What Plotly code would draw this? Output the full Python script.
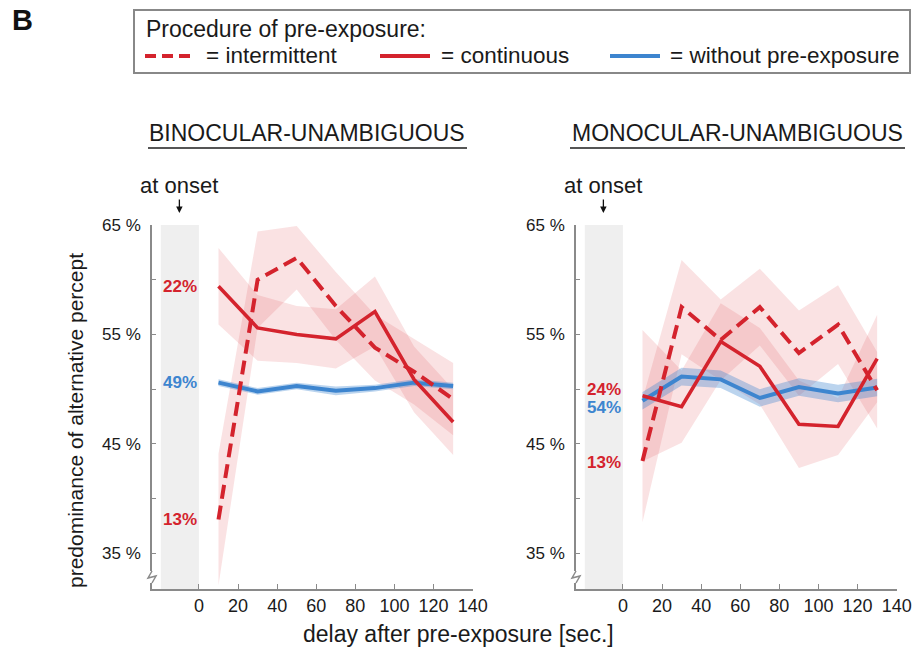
import plotly.graph_objects as go

# ---------------- data ----------------
delay = [10, 30, 50, 70, 90, 110, 130]

bin_cont = [59.4, 55.6, 55.0, 54.6, 57.1, 50.9, 47.0]
bin_cont_se = [3.5, 3.0, 2.6, 2.7, 3.2, 3.0, 3.0]
bin_int = [38.1, 60.0, 62.0, 57.6, 53.8, 51.6, 49.1]
bin_int_se = [6.0, 4.4, 2.9, 3.1, 3.0, 3.0, 3.3]
bin_none = [50.6, 49.8, 50.3, 49.85, 50.1, 50.6, 50.3]
bin_none_se = [0.3, 0.3, 0.3, 0.4, 0.3, 0.3, 0.3]

mon_cont = [49.4, 48.4, 54.35, 52.1, 46.8, 46.6, 52.8]
mon_cont_se = [6.0, 3.3, 3.5, 3.5, 4.0, 2.6, 4.0]
mon_int = [43.45, 57.5, 54.5, 57.5, 53.3, 55.9, 49.9]
mon_int_se = [5.6, 4.3, 3.7, 3.5, 3.9, 3.6, 3.5]
mon_none = [48.95, 51.15, 50.9, 49.2, 50.2, 49.6, 50.15]
mon_none_se = [0.8, 0.8, 0.8, 0.8, 0.8, 0.8, 0.8]

onset_bin = ["22%", "49%", "13%"]   # continuous, without, intermittent
onset_mon = ["24%", "54%", "13%"]

panel_titles = ["BINOCULAR-UNAMBIGUOUS", "MONOCULAR-UNAMBIGUOUS"]
x_ticks = [0, 20, 40, 60, 80, 100, 120, 140]
y_ticks = [35, 40, 45, 50, 55, 60, 65]
y_ticktext = ["35 %", "", "45 %", "", "55 %", "", "65 %"]

# ---------------- style ----------------
RED = "rgb(212,35,45)"
BLUE = "rgb(61,133,207)"
PINK = "rgba(220,60,70,0.15)"
LBLUE = "rgba(61,133,207,0.35)"
AX = "#8a8a8a"
TXT = "#1a1a1a"
FONT = "Liberation Sans, Arial, Helvetica, sans-serif"
W, H = 923, 648


def px(x):
    return x / W


def py(y):
    return 1 - y / H


fig = go.Figure()


def band(x, m, se, color, xa, ya):
    up = [a + b for a, b in zip(m, se)]
    lo = [a - b for a, b in zip(m, se)]
    fig.add_trace(go.Scatter(x=x + x[::-1], y=up + lo[::-1], fill="toself",
                             fillcolor=color, line=dict(width=0), mode="lines",
                             hoverinfo="skip", showlegend=False, xaxis=xa, yaxis=ya))


panels = [
    ("x", "y", bin_cont, bin_cont_se, bin_int, bin_int_se, bin_none, bin_none_se),
    ("x2", "y2", mon_cont, mon_cont_se, mon_int, mon_int_se, mon_none, mon_none_se),
]
for xa, ya, c, cse, it, itse, n, nse in panels:
    band(delay, c, cse, PINK, xa, ya)
    band(delay, it, itse, PINK, xa, ya)
    band(delay, n, nse, LBLUE, xa, ya)
    fig.add_trace(go.Scatter(x=delay, y=n, mode="lines", line=dict(color=BLUE, width=4),
                             showlegend=False, xaxis=xa, yaxis=ya))
    fig.add_trace(go.Scatter(x=delay, y=c, mode="lines", line=dict(color=RED, width=3.6),
                             showlegend=False, xaxis=xa, yaxis=ya))
    fig.add_trace(go.Scatter(x=delay, y=it, mode="lines",
                             line=dict(color=RED, width=4, dash="14px,7px"),
                             showlegend=False, xaxis=xa, yaxis=ya))

YR = [31.75, 65]
XR = [-24, 140]
ydom = [py(589), py(225)]
xdom1 = [px(152), px(472.7)]
xdom2 = [px(576), px(896.7)]

xcommon = dict(range=XR, tickvals=x_ticks, ticks="inside", ticklen=5, tickcolor=AX,
               tickwidth=1, showline=True, linecolor=AX, linewidth=1.5, showgrid=False,
               zeroline=False, tickfont=dict(size=18, color=TXT, family=FONT),
               ticklabelstandoff=0, fixedrange=True, automargin=False)
ycommon = dict(range=YR, tickvals=y_ticks, ticktext=y_ticktext, ticks="inside", ticklen=4,
               tickcolor=AX, tickwidth=1, showline=True, linecolor=AX, linewidth=1.5,
               showgrid=False, zeroline=False, tickfont=dict(size=17, color=TXT, family=FONT),
               ticklabelstandoff=6, fixedrange=True, automargin=False)

fig.update_layout(
    width=W, height=H, margin=dict(l=0, r=0, t=0, b=0, pad=0, autoexpand=False),
    paper_bgcolor="white", plot_bgcolor="white", showlegend=False,
    font=dict(family=FONT, color=TXT),
    xaxis=dict(domain=xdom1, anchor="y", **xcommon),
    yaxis=dict(domain=ydom, anchor="x", **ycommon),
    xaxis2=dict(domain=xdom2, anchor="y2", **xcommon),
    yaxis2=dict(domain=ydom, anchor="x2", **ycommon),
)

shapes = []
annotations = []


def note(x, y, text, size, color=TXT, xanchor="center", xref="paper", yref="paper", **kw):
    annotations.append(dict(xref=xref, yref=yref, x=x, y=y, text=text, showarrow=False,
                            xanchor=xanchor, yanchor="middle",
                            font=dict(size=size, color=color, family=FONT), **kw))


# grey "at onset" boxes, onset labels, arrows
for xr, yr, labels, series, shifts in [
    ("x", "y", onset_bin, (bin_cont, bin_none, bin_int), (0, 0, 0)),
    ("x2", "y2", onset_mon, (mon_cont, mon_none, mon_int), (6, -7, -2)),
]:
    shapes.append(dict(type="rect", xref=xr, yref=yr, x0=-19.5, x1=0, y0=YR[0], y1=YR[1],
                       fillcolor="#efefef", line=dict(width=0), layer="below"))
    colors = [RED, BLUE, RED]
    for lab, s, col, sh in zip(labels, series, colors, shifts):
        note(-9.75, s[0], "<b>%s</b>" % lab, 17, col, xref=xr, yref=yr, yshift=sh)
    note(-10, py(186), "at onset", 22, xref=xr)
    annotations.append(dict(xref=xr, yref="paper", x=-10, y=py(213), text="",
                            showarrow=True, ax=0, ay=-15, arrowhead=2, arrowsize=1,
                            arrowwidth=1.3, arrowcolor="#111"))

# panel titles with underline
for title, cx, ux0, ux1 in [(panel_titles[0], 306.5, 148, 467),
                            (panel_titles[1], 737, 570, 905)]:
    note(px(cx), py(133), title, 23)
    shapes.append(dict(type="line", xref="paper", yref="paper", x0=px(ux0), x1=px(ux1),
                       y0=py(148), y1=py(148), line=dict(color="#555", width=2)))

# axis break marks
for ax_x in (152, 576):
    shapes.append(dict(type="rect", xref="paper", yref="paper", x0=px(ax_x - 4), x1=px(ax_x + 4),
                       y0=py(583), y1=py(571), fillcolor="white", line=dict(width=0),
                       layer="above"))
    path = "M %f,%f L %f,%f L %f,%f L %f,%f" % (
        px(ax_x), py(571), px(ax_x - 4), py(578), px(ax_x + 4), py(576), px(ax_x), py(583))
    shapes.append(dict(type="path", xref="paper", yref="paper", path=path,
                       line=dict(color=AX, width=1.5), layer="above"))

# axis titles
note(px(458), py(634), "delay after pre-exposure [sec.]", 23)
note(px(75), py(421), "predominance of alternative percept", 21, textangle=-90)

# panel letter
note(px(10), py(20), "<b>B</b>", 29, "#111", xanchor="left")

# legend box
shapes.append(dict(type="rect", xref="paper", yref="paper", x0=px(134), x1=px(910),
                   y0=py(73), y1=py(10), line=dict(color="#888", width=2),
                   fillcolor="rgba(0,0,0,0)"))
note(px(144), py(29), "Procedure of pre-exposure:", 23, xanchor="left")
leg_items = [("= intermittent", RED, "dash", 145, 196, 204),
             ("= continuous", RED, "solid", 380, 430, 439),
             ("= without pre-exposure", BLUE, "solid", 610, 660, 668)]
for txt, col, dsh, x0, x1, tx in leg_items:
    shapes.append(dict(type="line", xref="paper", yref="paper", x0=px(x0), x1=px(x1),
                       y0=py(56), y1=py(56),
                       line=dict(color=col, width=4, dash="11px,6px" if dsh == "dash" else "solid")))
    note(px(tx), py(56), txt, 22.5, xanchor="left")

fig.update_layout(shapes=shapes, annotations=annotations)
fig.write_html("out.html")
